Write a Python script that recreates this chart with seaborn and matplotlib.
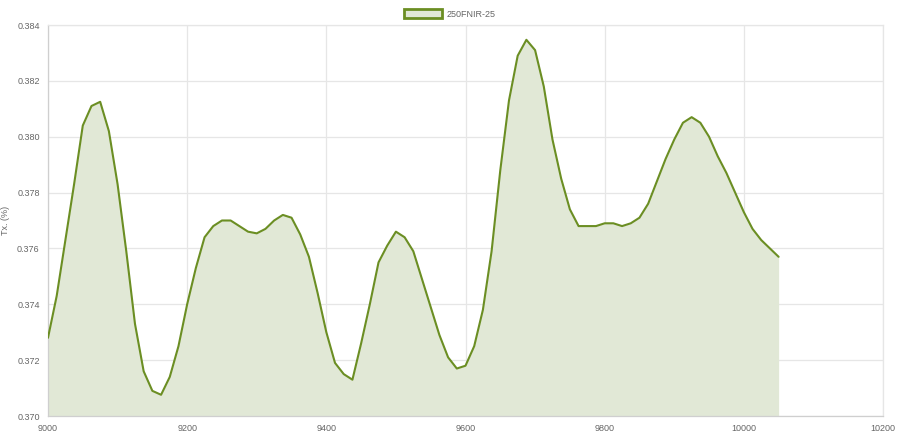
import matplotlib
matplotlib.use("Agg")
import matplotlib.pyplot as plt
from matplotlib.patches import Patch
import seaborn as sns
import pandas as pd

# wavenumber / transmission values
wavenumber = [9000, 9012.5, 9025, 9037.5, 9050, 9062.5, 9075, 9087.5, 9100, 9112.5,
              9125, 9137.5, 9150, 9162.5, 9175, 9187.5, 9200, 9212.5, 9225, 9237.5,
              9250, 9262.5, 9275, 9287.5, 9300, 9312.5, 9325, 9337.5, 9350, 9362.5,
              9375, 9387.5, 9400, 9412.5, 9425, 9437.5, 9450, 9462.5, 9475, 9487.5,
              9500, 9512.5, 9525, 9537.5, 9550, 9562.5, 9575, 9587.5, 9600, 9612.5,
              9625, 9637.5, 9650, 9662.5, 9675, 9687.5, 9700, 9712.5, 9725, 9737.5,
              9750, 9762.5, 9775, 9787.5, 9800, 9812.5, 9825, 9837.5, 9850, 9862.5,
              9875, 9887.5, 9900, 9912.5, 9925, 9937.5, 9950, 9962.5, 9975, 9987.5,
              10000, 10012.5, 10025, 10037.5, 10050]
tx = [0.3728, 0.3743, 0.3763, 0.3783, 0.3804, 0.3811, 0.38125, 0.3802, 0.3783, 0.3759,
      0.3733, 0.3716, 0.3709, 0.37076, 0.3714, 0.3725, 0.3740, 0.3753, 0.3764, 0.3768,
      0.3770, 0.3770, 0.3768, 0.3766, 0.37654, 0.3767, 0.3770, 0.3772, 0.3771, 0.3765,
      0.3757, 0.3744, 0.3730, 0.3719, 0.3715, 0.3713, 0.3726, 0.3740, 0.3755, 0.3761,
      0.3766, 0.3764, 0.3759, 0.3749, 0.3739, 0.3729, 0.3721, 0.3717, 0.3718, 0.3725,
      0.3738, 0.3759, 0.3788, 0.3813, 0.3829, 0.38347, 0.3831, 0.3818, 0.3799, 0.3785,
      0.3774, 0.3768, 0.3768, 0.3768, 0.3769, 0.3769, 0.3768, 0.3769, 0.3771, 0.3776,
      0.3784, 0.3792, 0.3799, 0.3805, 0.3807, 0.3805, 0.3800, 0.3793, 0.3787, 0.3780,
      0.3773, 0.3767, 0.3763, 0.3760, 0.3757]
series_name = "250FNIR-25"
x_ticks = [9000, 9200, 9400, 9600, 9800, 10000, 10200]
y_ticks = [0.370, 0.372, 0.374, 0.376, 0.378, 0.380, 0.382, 0.384]

line_color = "#6b8e23"
fill_color = "#e1e8d6"
grid_color = "#e6e6e6"
text_color = "#666666"

df = pd.DataFrame({"wavenumber": wavenumber, "tx": tx})

sns.set_style("white")
plt.rcParams["font.family"] = ["Liberation Sans", "DejaVu Sans"]

fig = plt.figure(figsize=(9, 4.4), dpi=100)
ax = fig.add_axes([48 / 900, 1 - 416 / 440, 835 / 900, 391 / 440])

ax.fill_between(df["wavenumber"], df["tx"], 0.370, color=fill_color, linewidth=0, zorder=1)
sns.lineplot(data=df, x="wavenumber", y="tx", ax=ax, color=line_color, linewidth=1.5,
             zorder=3, legend=False)

ax.set_xlim(9000, 10200)
ax.set_ylim(0.370, 0.384)
ax.set_xticks(x_ticks)
ax.set_yticks(y_ticks)
ax.set_yticklabels([f"{v:.3f}" for v in y_ticks])
ax.grid(True, color=grid_color, linewidth=0.9, zorder=0)
ax.set_axisbelow(True)
ax.tick_params(axis="both", labelsize=6.5, colors=text_color, length=4, width=0.8,
               color=grid_color, pad=2)
for side in ["top", "right"]:
    ax.spines[side].set_color(grid_color)
for side in ["left", "bottom"]:
    ax.spines[side].set_color("#cfcfcf")
for s in ax.spines.values():
    s.set_linewidth(0.9)

ax.set_xlabel("")
ax.set_ylabel("Tx. (%)", fontsize=6.5, color=text_color)
ax.yaxis.set_label_coords(-0.046, 0.5)

handle = Patch(facecolor=fill_color, edgecolor=line_color, linewidth=2)
fig.legend([handle], [series_name], loc="center", bbox_to_anchor=(0.5, 1 - 14 / 440),
           frameon=False, fontsize=6.5, handlelength=4.2, handleheight=1.1,
           handletextpad=0.5, labelcolor=text_color)

fig.savefig("out.png", dpi=100)
